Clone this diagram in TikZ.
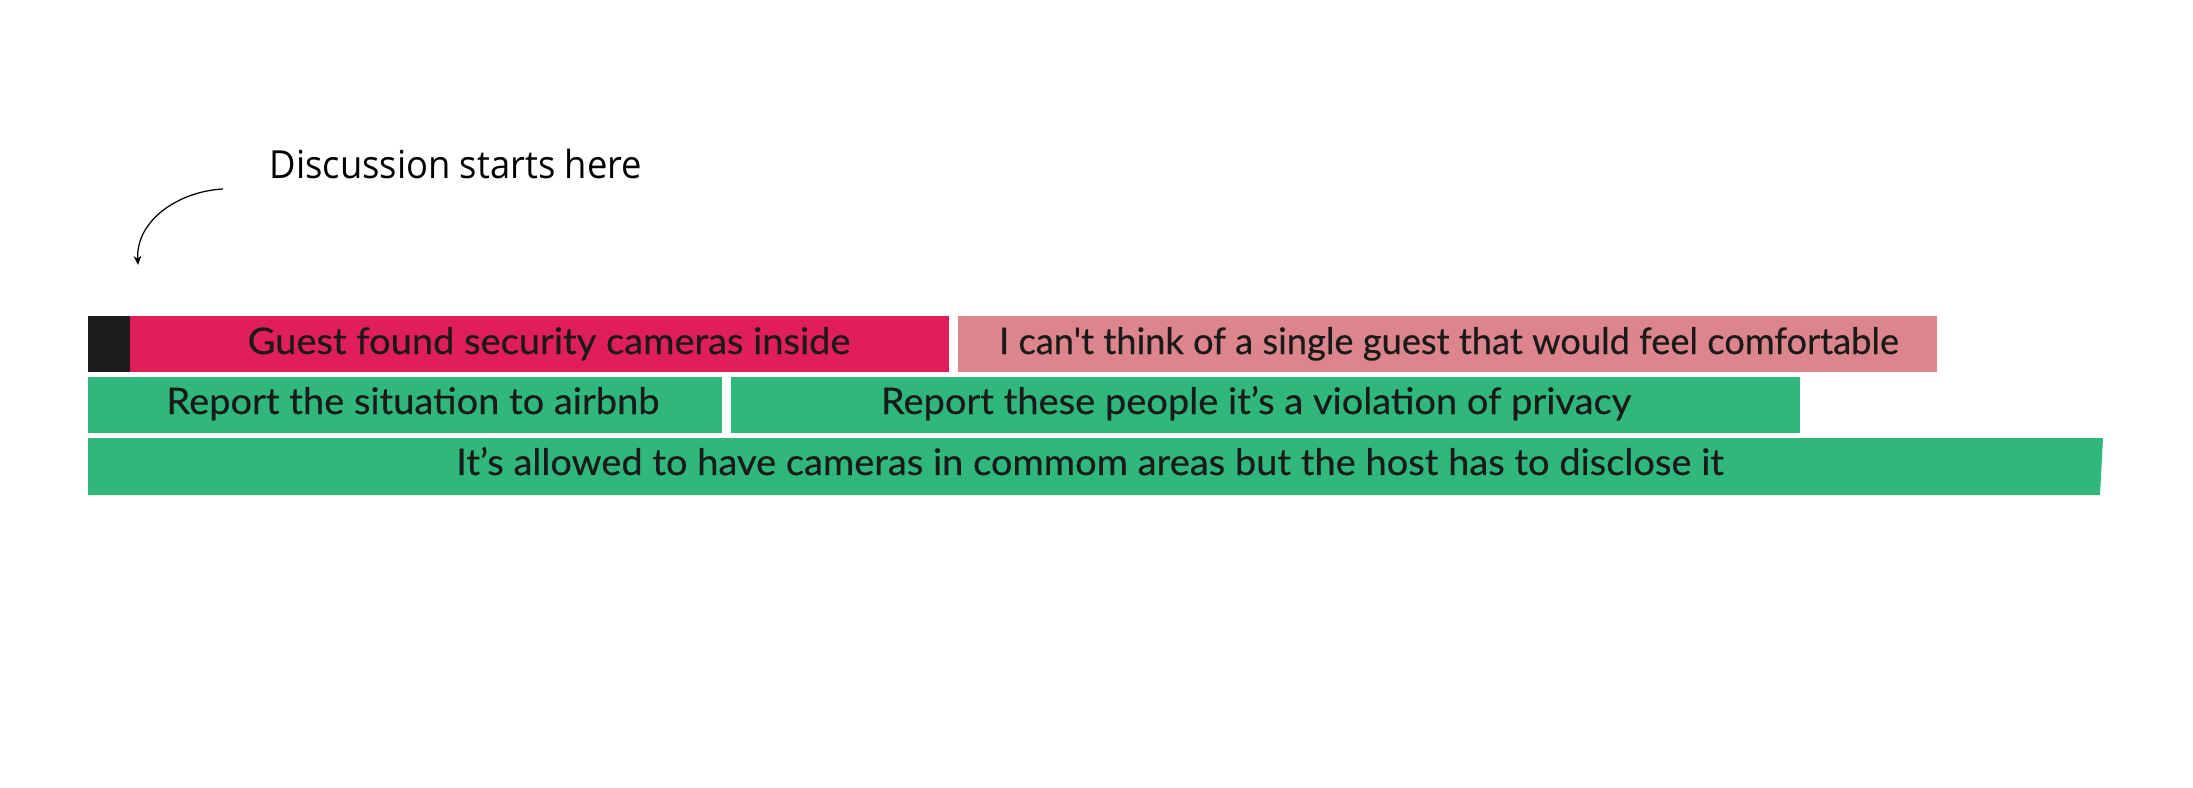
\documentclass[tikz,border=0pt]{standalone}
\usepackage{fontspec}
\usetikzlibrary{arrows.meta}
\newfontfamily\boxfont[FakeStretch=1.04, FakeBold=0.4]{Lato}
\newfontfamily\tightboxfont[FakeStretch=0.99, FakeBold=0.4]{Lato}
\newfontfamily\notefont[FakeStretch=0.94]{Open Sans}
\definecolor{startblack}{HTML}{1C1C1C}
\definecolor{topicred}{HTML}{E01F5A}
\definecolor{replypink}{HTML}{DC858D}
\definecolor{replygreen}{HTML}{30B77C}
\definecolor{inkdark}{HTML}{1A1A1A}
\tikzset{
  boxtext/.style={font=\boxfont\fontsize{10.4}{12}\selectfont, text=inkdark, anchor=base, inner sep=0pt},
  tightboxtext/.style={boxtext, font=\tightboxfont\fontsize{10.4}{12}\selectfont},
  notetext/.style={font=\notefont\fontsize{11}{13}\selectfont, text=black, anchor=base west, inner sep=0pt}
}

\begin{document}
\begin{tikzpicture}[x=0.01cm, y=-0.01cm]
\useasboundingbox (0,0) rectangle (2193,788);
\node (note) at (269,179) [notetext] {Discussion starts here};
\coordinate (arrowstart) at (223,189);
\coordinate (arrowend) at (138,265);
\draw [line width=0.35pt, -{Stealth[length=2.6pt, width=2.2pt]}] (arrowstart) to[out=183, in=93] (arrowend);
% first row
\fill [startblack] (88,316) rectangle (130,372);
\fill [topicred] (130,316) rectangle (949,372);
\node (guest) at (549,354) [boxtext] {Guest found security cameras inside};
\fill [replypink] (958,316) rectangle (1937,372);
\node (comfort) at (1449,354) [tightboxtext] {I can't think of a single guest that would feel comfortable};
% second row
\fill [replygreen] (88,377) rectangle (722,433);
\node (airbnb) at (413,414) [boxtext] {Report the situation to airbnb};
\fill [replygreen] (731,377) rectangle (1800,433);
\node (privacy) at (1256,414) [boxtext] {Report these people it’s a violation of privacy};
% third row
\fill [replygreen] (88,438) -- (2103,438) -- (2100,495) -- (88,495) -- cycle;
\node (disclose) at (1090,475) [boxtext] {It’s allowed to have cameras in commom areas but the host has to disclose it};
\end{tikzpicture}
\end{document}
